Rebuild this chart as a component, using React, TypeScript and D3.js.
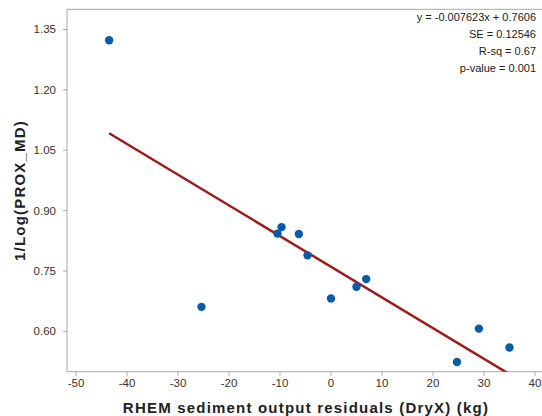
import React from "react";
import * as d3 from "d3";

const xValues = [-43.5, -25.4, -10.5, -9.7, -6.3, -4.6, 0, 5.0, 6.9, 24.7, 29.0, 35.0];
const yValues = [1.323, 0.661, 0.843, 0.859, 0.842, 0.789, 0.682, 0.711, 0.730, 0.524, 0.607, 0.560];
const slope = -0.007623;
const intercept = 0.7606;
const xTicks = [-50, -40, -30, -20, -10, 0, 10, 20, 30, 40];
const yTicks = [0.6, 0.75, 0.9, 1.05, 1.2, 1.35];
const statLines = ["y = -0.007623x + 0.7606", "SE = 0.12546", "R-sq = 0.67", "p-value = 0.001"];

const W = 542, H = 416;
const left = 67, right = 542, top = 9.3, bottom = 371.7;

export default function App() {
  const x = d3.scaleLinear().domain([-50, 40]).range([76, 535]);
  const y = d3.scaleLinear().domain([0.5, 1.4]).range([bottom, top]);
  const xMin = d3.min(xValues)!;
  const xMax = d3.max(xValues)!;
  const fit = [xMin, xMax].map((v) => [v, slope * v + intercept] as [number, number]);
  const line = d3.line<[number, number]>().x((d) => x(d[0])).y((d) => y(d[1]));
  const font = "'Liberation Sans', Arial, sans-serif";
  return (
    <svg width={W} height={H} style={{ position: "absolute", left: 0, top: 0 }} fontFamily={font}>
      <defs>
        <clipPath id="plot">
          <rect x={left} y={top} width={right - left} height={bottom - top} />
        </clipPath>
      </defs>
      <rect x={0} y={0} width={W} height={H} fill="#fff" />
      <line x1={left} x2={right} y1={top} y2={top} stroke="#a8a8a8" strokeWidth={1} />
      <line x1={left} x2={left} y1={top} y2={bottom} stroke="#a8a8a8" strokeWidth={1} />
      <line x1={left} x2={right} y1={bottom} y2={bottom} stroke="#a8a8a8" strokeWidth={1} />
      {yTicks.map((t) => (
        <g key={"y" + t}>
          <line x1={left - 4} x2={left} y1={y(t)} y2={y(t)} stroke="#a8a8a8" />
          <text x={left - 11} y={y(t)} dy="0.35em" textAnchor="end" fontSize={11.5} fill="#333">
            {t.toFixed(2)}
          </text>
        </g>
      ))}
      {xTicks.map((t) => (
        <g key={"x" + t}>
          <line x1={x(t)} x2={x(t)} y1={bottom} y2={bottom + 4} stroke="#a8a8a8" />
          <text x={x(t)} y={383} dy="0.35em" textAnchor="middle" fontSize={11.5} fill="#333">
            {t}
          </text>
        </g>
      ))}
      <g clipPath="url(#plot)">
        <path d={line(fit) ?? ""} fill="none" stroke="#9e1b1b" strokeWidth={2.5} />
        {xValues.map((v, i) => (
          <circle key={i} cx={x(v)} cy={y(yValues[i])} r={4.2} fill="#0a5aab" />
        ))}
      </g>
      {statLines.map((s, i) => (
        <text key={s} x={536} y={17 + i * 17} dy="0.35em" textAnchor="end" fontSize={11} fill="#222">
          {s}
        </text>
      ))}
      <text x={306} y={408} dy="0.35em" textAnchor="middle" fontSize={15} fontWeight="bold" fill="#222" letterSpacing={1.2}>
        RHEM sediment output residuals (DryX) (kg)
      </text>
      <text
        transform={`translate(20,${(top + bottom) / 2}) rotate(-90)`}
        dy="0.35em"
        textAnchor="middle"
        fontSize={15}
        fontWeight="bold"
        fill="#222"
        letterSpacing={1.2}
      >
        1/Log(PROX_MD)
      </text>
    </svg>
  );
}
